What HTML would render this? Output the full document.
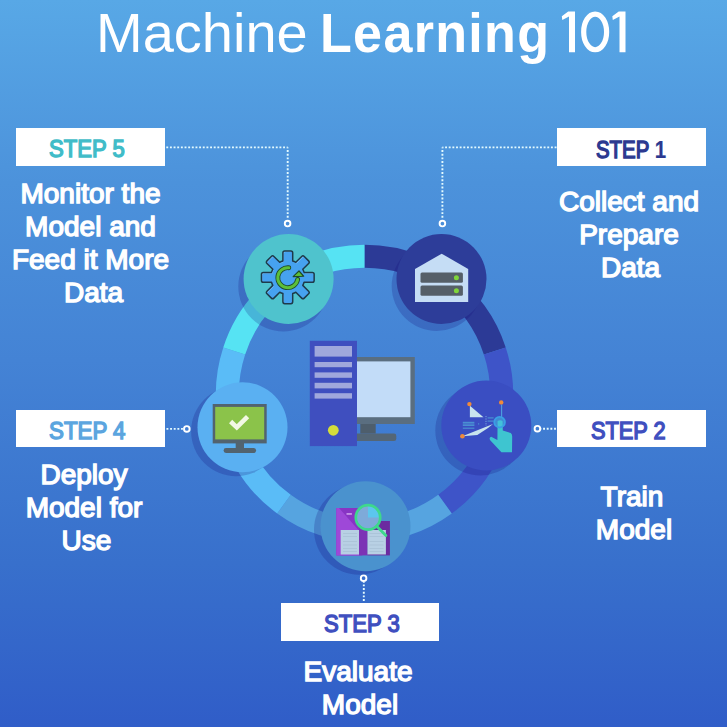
<!DOCTYPE html>
<html><head><meta charset="utf-8">
<style>
html,body{margin:0;padding:0;}
body{width:727px;height:727px;overflow:hidden;position:relative;
background:linear-gradient(180deg,#58a8e6 0px,#4c92db 183px,#4483d5 360px,#3870cc 563px,#305dc8 727px);
font-family:"Liberation Sans",sans-serif;}
.abs{position:absolute;}
#title{left:0;top:0;width:727px;white-space:nowrap;color:#fff;font-size:56px;line-height:66px;}
.box{position:absolute;background:#fff;}
.lbl{position:absolute;font-weight:normal;font-size:23px;line-height:26px;white-space:nowrap;transform-origin:0 0;-webkit-text-stroke:1.35px currentColor;}
.desc{position:absolute;color:#fff;font-weight:normal;font-size:28px;letter-spacing:0px;-webkit-text-stroke:1.4px #fff;line-height:33px;text-align:center;white-space:nowrap;}
svg{position:absolute;left:0;top:0;}
</style></head>
<body>
<div id="title" class="abs"><span style="position:absolute;left:96px;top:0">Machine</span><span style="position:absolute;left:320px;top:0;font-weight:bold;letter-spacing:1.4px;transform:scaleX(0.93);transform-origin:0 0">Learning</span></div>

<svg width="727" height="727" viewBox="0 0 727 727">
  <!-- title 101 -->
  <g fill="#fff">
    <path d="M568.2 11.4 H575 V52.3 H569 V16.6 L562.3 19.9 L561.8 16.3 Z"/>
    <path d="M618.7 11.4 H625.5 V52.3 H619.5 V16.6 L612.8 19.9 L612.3 16.3 Z"/>
  </g>
  <ellipse cx="595.15" cy="31.9" rx="11.45" ry="17.85" fill="none" stroke="#fff" stroke-width="5.2"/>
  <!-- connectors -->
  <g fill="none" stroke="#e4fbff" stroke-width="1.9">
    <path d="M287.7 147.4 H165" stroke-dasharray="1.9 1.75" stroke-dashoffset="0.95"/>
    <path d="M287.7 147.4 V219" stroke-dasharray="1.9 1.75" stroke-dashoffset="0.95"/>
    <path d="M442.4 147.4 H557" stroke-dasharray="1.9 1.75" stroke-dashoffset="0.95"/>
    <path d="M442.4 147.4 V219" stroke-dasharray="1.9 1.75" stroke-dashoffset="0.95"/>
    <path d="M166.45 428.9 H184" stroke-dasharray="1.9 1.75"/>
    <path d="M555.95 428.7 H540" stroke-dasharray="1.9 1.75"/>
    <path d="M363.8 600.95 V582" stroke-dasharray="1.9 1.75"/>
  </g>
  <g fill="none" stroke="#fff" stroke-width="1.9">
    <circle cx="287.6" cy="223.6" r="2.8"/>
    <circle cx="442.4" cy="223.6" r="2.8"/>
    <circle cx="186.8" cy="428.9" r="2.8"/>
    <circle cx="537.4" cy="428.7" r="2.8"/>
    <circle cx="363.6" cy="578.2" r="2.8"/>
  </g>
  <g id="ring" fill="none" stroke-width="23">
<path d="M364.50 256.30 A137 137 0 0 1 494.79 350.96" stroke="#2c3a96"/>
<path d="M494.79 350.96 A137 137 0 0 1 445.03 504.14" stroke="#3e54c8"/>
<path d="M445.03 504.14 A137 137 0 0 1 283.97 504.14" stroke="#56a4e0"/>
<path d="M283.97 504.14 A137 137 0 0 1 234.21 350.96" stroke="#5abcf7"/>
<path d="M234.21 350.96 A137 137 0 0 1 364.50 256.30" stroke="#56e3f3"/>
</g>
<g>
<circle cx="283.3" cy="286.5" r="45" fill="rgba(20,10,120,0.21)"/>
<circle cx="436.7" cy="286.0" r="45" fill="rgba(20,10,120,0.21)"/>
<circle cx="480.3" cy="430.5" r="45" fill="rgba(20,10,120,0.21)"/>
<circle cx="359.0" cy="529.8" r="45" fill="rgba(20,10,120,0.21)"/>
<circle cx="236.1" cy="431.3" r="45" fill="rgba(20,10,120,0.21)"/>
</g>
<g>
<circle cx="288.6" cy="279.0" r="45" fill="#4fc3cd"/>
<circle cx="441.5" cy="279.0" r="45" fill="#2d3d99"/>
<circle cx="486.3" cy="425.5" r="45" fill="#3a4ec2"/>
<circle cx="365.5" cy="526.3" r="45" fill="#4a92ce"/>
<circle cx="242.5" cy="427.3" r="45" fill="#5ab0f2"/>
</g>
<g id="icons">

<!-- central computer -->
<rect x="357" y="357" width="57.8" height="67" fill="#5a6e80"/>
<rect x="357" y="361.4" width="53.4" height="55.8" fill="#c2dcf8"/>
<rect x="360.3" y="424" width="15.4" height="9.6" fill="#4e5e6c"/>
<path d="M357 433.6 H394 a2.3 2.3 0 0 1 2.3 2.3 V438.7 a2.3 2.3 0 0 1 -2.3 2.3 H357 Z" fill="#546676"/>
<rect x="309.8" y="340.8" width="47.2" height="105.3" fill="#3f4fbf"/>
<g fill="#a0a8dc">
<rect x="314.6" y="346" width="37.4" height="10.6"/>
<rect x="314.6" y="362" width="37.4" height="5.2"/>
<rect x="314.6" y="372.4" width="37.4" height="5.4"/>
<rect x="314.6" y="382.8" width="37.4" height="5.6"/>
<rect x="314.6" y="393.2" width="37.4" height="5.4"/>
</g>
<circle cx="333.3" cy="430.3" r="5.4" fill="#d4dc3a"/>

<!-- S1 server -->
<path d="M415 301.9 V268.9 L441.7 253.7 L468.2 268.9 V301.9 Z" fill="#c5ddf5"/>
<rect x="420.5" y="272.4" width="42.4" height="10.4" rx="1.5" fill="#555f68"/>
<rect x="420.5" y="285.5" width="42.4" height="10.3" rx="1.5" fill="#555f68"/>
<circle cx="456.4" cy="277.7" r="2.5" fill="#7fd63a"/>
<circle cx="456.4" cy="290.8" r="2.5" fill="#7fd63a"/>

<!-- S4 monitor -->
<rect x="212.7" y="404" width="54" height="39.4" fill="#52636f"/>
<rect x="215.2" y="406.9" width="49" height="32.5" fill="#8bc34a"/>
<rect x="235.7" y="443" width="8.3" height="5.5" fill="#52636f"/>
<rect x="223.6" y="448" width="32.5" height="4.9" rx="2.4" fill="#52636f"/>
<path d="M230.6 421.5 L236.8 427.4 L247.6 416.6" fill="none" stroke="#f2f8e4" stroke-width="4.6"/>

<!-- S5 gear -->
<clipPath id="gclip"><path d="M304.08 272.40 L312.35 272.40 Q314.15 272.40 314.15 274.20 L314.15 280.40 Q314.15 282.20 312.35 282.20 L304.08 282.20 A17.0 17.0 0 0 1 302.78 285.35 L308.62 291.19 Q309.90 292.47 308.62 293.74 L304.24 298.12 Q302.97 299.40 301.69 298.12 L295.85 292.28 A17.0 17.0 0 0 1 292.70 293.58 L292.70 301.85 Q292.70 303.65 290.90 303.65 L284.70 303.65 Q282.90 303.65 282.90 301.85 L282.90 293.58 A17.0 17.0 0 0 1 279.75 292.28 L273.91 298.12 Q272.63 299.40 271.36 298.12 L266.98 293.74 Q265.70 292.47 266.98 291.19 L272.82 285.35 A17.0 17.0 0 0 1 271.52 282.20 L263.25 282.20 Q261.45 282.20 261.45 280.40 L261.45 274.20 Q261.45 272.40 263.25 272.40 L271.52 272.40 A17.0 17.0 0 0 1 272.82 269.25 L266.98 263.41 Q265.70 262.13 266.98 260.86 L271.36 256.48 Q272.63 255.20 273.91 256.48 L279.75 262.32 A17.0 17.0 0 0 1 282.90 261.02 L282.90 252.75 Q282.90 250.95 284.70 250.95 L290.90 250.95 Q292.70 250.95 292.70 252.75 L292.70 261.02 A17.0 17.0 0 0 1 295.85 262.32 L301.69 256.48 Q302.97 255.20 304.24 256.48 L308.62 260.86 Q309.90 262.13 308.62 263.41 L302.78 269.25 A17.0 17.0 0 0 1 304.08 272.40 Z"/></clipPath>
<path d="M304.08 272.40 L312.35 272.40 Q314.15 272.40 314.15 274.20 L314.15 280.40 Q314.15 282.20 312.35 282.20 L304.08 282.20 A17.0 17.0 0 0 1 302.78 285.35 L308.62 291.19 Q309.90 292.47 308.62 293.74 L304.24 298.12 Q302.97 299.40 301.69 298.12 L295.85 292.28 A17.0 17.0 0 0 1 292.70 293.58 L292.70 301.85 Q292.70 303.65 290.90 303.65 L284.70 303.65 Q282.90 303.65 282.90 301.85 L282.90 293.58 A17.0 17.0 0 0 1 279.75 292.28 L273.91 298.12 Q272.63 299.40 271.36 298.12 L266.98 293.74 Q265.70 292.47 266.98 291.19 L272.82 285.35 A17.0 17.0 0 0 1 271.52 282.20 L263.25 282.20 Q261.45 282.20 261.45 280.40 L261.45 274.20 Q261.45 272.40 263.25 272.40 L271.52 272.40 A17.0 17.0 0 0 1 272.82 269.25 L266.98 263.41 Q265.70 262.13 266.98 260.86 L271.36 256.48 Q272.63 255.20 273.91 256.48 L279.75 262.32 A17.0 17.0 0 0 1 282.90 261.02 L282.90 252.75 Q282.90 250.95 284.70 250.95 L290.90 250.95 Q292.70 250.95 292.70 252.75 L292.70 261.02 A17.0 17.0 0 0 1 295.85 262.32 L301.69 256.48 Q302.97 255.20 304.24 256.48 L308.62 260.86 Q309.90 262.13 308.62 263.41 L302.78 269.25 A17.0 17.0 0 0 1 304.08 272.40 Z" fill="#7cc6f8"/>
<g clip-path="url(#gclip)"><path d="M304.08 272.40 L312.35 272.40 Q314.15 272.40 314.15 274.20 L314.15 280.40 Q314.15 282.20 312.35 282.20 L304.08 282.20 A17.0 17.0 0 0 1 302.78 285.35 L308.62 291.19 Q309.90 292.47 308.62 293.74 L304.24 298.12 Q302.97 299.40 301.69 298.12 L295.85 292.28 A17.0 17.0 0 0 1 292.70 293.58 L292.70 301.85 Q292.70 303.65 290.90 303.65 L284.70 303.65 Q282.90 303.65 282.90 301.85 L282.90 293.58 A17.0 17.0 0 0 1 279.75 292.28 L273.91 298.12 Q272.63 299.40 271.36 298.12 L266.98 293.74 Q265.70 292.47 266.98 291.19 L272.82 285.35 A17.0 17.0 0 0 1 271.52 282.20 L263.25 282.20 Q261.45 282.20 261.45 280.40 L261.45 274.20 Q261.45 272.40 263.25 272.40 L271.52 272.40 A17.0 17.0 0 0 1 272.82 269.25 L266.98 263.41 Q265.70 262.13 266.98 260.86 L271.36 256.48 Q272.63 255.20 273.91 256.48 L279.75 262.32 A17.0 17.0 0 0 1 282.90 261.02 L282.90 252.75 Q282.90 250.95 284.70 250.95 L290.90 250.95 Q292.70 250.95 292.70 252.75 L292.70 261.02 A17.0 17.0 0 0 1 295.85 262.32 L301.69 256.48 Q302.97 255.20 304.24 256.48 L308.62 260.86 Q309.90 262.13 308.62 263.41 L302.78 269.25 A17.0 17.0 0 0 1 304.08 272.40 Z" fill="#46a2f0" transform="translate(0.9 1.1)"/></g>
<path d="M304.08 272.40 L312.35 272.40 Q314.15 272.40 314.15 274.20 L314.15 280.40 Q314.15 282.20 312.35 282.20 L304.08 282.20 A17.0 17.0 0 0 1 302.78 285.35 L308.62 291.19 Q309.90 292.47 308.62 293.74 L304.24 298.12 Q302.97 299.40 301.69 298.12 L295.85 292.28 A17.0 17.0 0 0 1 292.70 293.58 L292.70 301.85 Q292.70 303.65 290.90 303.65 L284.70 303.65 Q282.90 303.65 282.90 301.85 L282.90 293.58 A17.0 17.0 0 0 1 279.75 292.28 L273.91 298.12 Q272.63 299.40 271.36 298.12 L266.98 293.74 Q265.70 292.47 266.98 291.19 L272.82 285.35 A17.0 17.0 0 0 1 271.52 282.20 L263.25 282.20 Q261.45 282.20 261.45 280.40 L261.45 274.20 Q261.45 272.40 263.25 272.40 L271.52 272.40 A17.0 17.0 0 0 1 272.82 269.25 L266.98 263.41 Q265.70 262.13 266.98 260.86 L271.36 256.48 Q272.63 255.20 273.91 256.48 L279.75 262.32 A17.0 17.0 0 0 1 282.90 261.02 L282.90 252.75 Q282.90 250.95 284.70 250.95 L290.90 250.95 Q292.70 250.95 292.70 252.75 L292.70 261.02 A17.0 17.0 0 0 1 295.85 262.32 L301.69 256.48 Q302.97 255.20 304.24 256.48 L308.62 260.86 Q309.90 262.13 308.62 263.41 L302.78 269.25 A17.0 17.0 0 0 1 304.08 272.40 Z" fill="none" stroke="#1e3a4a" stroke-width="1.5" stroke-linejoin="round"/>
<path d="M288.85 267.75 A10.0 10.0 0 1 0 297.65 279.44" fill="none" stroke="#1f4a2a" stroke-width="4.8" stroke-linecap="round"/>
<path d="M293.2 276.6 L303.6 276.2 L299.0 271.0 Z" fill="#5cbf3a" stroke="#1f4a2a" stroke-width="1.3" stroke-linejoin="round"/>
<path d="M288.85 267.75 A10.0 10.0 0 1 0 297.65 279.44" fill="none" stroke="#5cbf3a" stroke-width="3.0" stroke-linecap="round"/>
<path d="M294.6 275.9 L302.2 275.7 L299.0 272.3 Z" fill="#5cbf3a"/>

<!-- S3 folders + magnifier -->
<rect x="336.3" y="508" width="26" height="47.4" fill="#8834c4"/>
<path d="M336.3 508 H339 L359.3 531 V555.4 H336.3 Z" fill="#9e48d8"/>
<rect x="359" y="508" width="8.5" height="47.4" fill="#7c33b5"/>
<rect x="367.5" y="521" width="22.4" height="34.4" fill="#6b2ba0"/>
<rect x="340.7" y="530" width="18.3" height="24.5" fill="#b8d0e4"/>
<rect x="367.5" y="530" width="18.4" height="24.5" fill="#b8d0e4"/>
<g stroke="#a6bfd4" stroke-width="0.7">
<path d="M343 533.5 H357 M343 536.5 H357 M343 541.5 H357 M343 545 H357 M343 548.5 H357 M343 551.5 H357"/>
<path d="M369.5 533.5 H383.5 M369.5 536.5 H383.5 M369.5 541.5 H383.5 M369.5 545 H383.5 M369.5 548.5 H383.5 M369.5 551.5 H383.5"/>
</g>
<rect x="346.5" y="513.2" width="5.4" height="1.5" fill="#d4a8f0"/>
<circle cx="368" cy="517.4" r="11.5" fill="#7eaad9"/>
<path d="M368 505.9 A11.5 11.5 0 0 1 379.5 517.4 H368 Z" fill="#5cc6ee"/>
<circle cx="368" cy="517.4" r="12.2" fill="none" stroke="#3ed88c" stroke-width="2.7"/>
<path d="M377.2 526.8 L385.9 535.6" stroke="#3ed88c" stroke-width="2.8" stroke-linecap="round"/>

<!-- S2 train -->
<path d="M469.9 405.7 L469.9 417.3 L483.5 417.3 Z" fill="#c8e4ee"/>
<path d="M462.4 436.3 L493 423.9 L488 428 L477.3 435 Z" fill="#c8e4ee"/>
<g fill="#4a8fd2">
<rect x="462.8" y="421.8" width="11.6" height="1.8"/>
<rect x="462.8" y="424.3" width="11.6" height="1.7"/>
<rect x="462.8" y="427.6" width="11.6" height="1.2"/>
<rect x="478" y="423.3" width="1.2" height="1.2"/>
<rect x="487.6" y="417.3" width="6" height="1.2"/>
<rect x="487.6" y="420.5" width="6" height="1.2"/>
</g>
<path d="M501.6 404.5 V417" stroke="#4fa0e0" stroke-width="1.1"/>
<path d="M486 416 V426" stroke="#7fb0e0" stroke-width="0.9" stroke-dasharray="1.2 1.2"/>
<circle cx="469.4" cy="404.1" r="2.2" fill="#f08a3a"/>
<circle cx="501.2" cy="402.4" r="2.2" fill="#f08a3a"/>
<circle cx="462.4" cy="436.3" r="2.3" fill="#f08a3a"/>
<path d="M497.6 421 Q500.2 419.5 502.6 421 L502.8 430.5 L510.8 433 Q512.2 434 512.2 436.5 L512 452.2 L501.4 452.2 L490.2 440.2 Q488.6 437.8 491.2 436.8 L497.4 440 Z" fill="#3ec5d0"/>
<circle cx="499.6" cy="422.2" r="5.3" fill="rgba(70,190,225,0.55)" stroke="#3a9fe5" stroke-width="1.9"/>

</g>
</svg>

<!-- step boxes -->
<div class="box" style="left:16px;top:128px;width:149px;height:38px"></div>
<div class="box" style="left:557px;top:128px;width:149px;height:38px"></div>
<div class="box" style="left:16px;top:410px;width:149px;height:37px"></div>
<div class="box" style="left:557px;top:410px;width:149px;height:37px"></div>
<div class="box" style="left:281px;top:603px;width:158px;height:38px"></div>
<div class="lbl" style="color:#40bcc8;left:49px;top:136px;transform:scaleX(0.96)">STEP 5</div>
<div class="lbl" style="color:#2b3990;left:596px;top:137px;transform:scaleX(0.888)">STEP <span style="font-weight:bold;-webkit-text-stroke:0.2px currentColor">1</span></div>
<div class="lbl" style="color:#5ba5df;left:49px;top:417.5px;transform:scaleX(0.97)">STEP 4</div>
<div class="lbl" style="color:#3f4fbf;left:591px;top:418px;transform:scaleX(0.947)">STEP 2</div>
<div class="lbl" style="color:#3f4fbf;left:324px;top:611px;transform:scaleX(0.96)">STEP 3</div>

<!-- descriptions -->
<div class="desc" style="left:0;width:181px;top:177px">Monitor the<br>Model and<br>Feed it More<br><span style="position:relative;left:3px">Data</span></div>
<div class="desc" style="left:549px;width:160px;top:185px">Collect and<br>Prepare<br><span style="position:relative;left:1.5px">Data</span></div>
<div class="desc" style="left:4px;width:160px;top:458px">Deploy<br>Model for<br><span style="position:relative;left:2.5px">Use</span></div>
<div class="desc" style="left:552px;width:160px;top:479.5px">Train<br><span style="position:relative;left:2px">Model</span></div>
<div class="desc" style="left:278px;width:160px;top:655px">Evaluate<br><span style="position:relative;left:2px">Model</span></div>
</body></html>
